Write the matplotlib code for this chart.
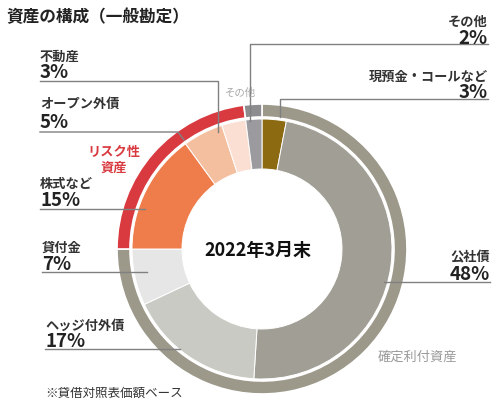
import matplotlib
matplotlib.use('Agg')
import matplotlib.pyplot as plt

plt.rcParams['font.family'] = ['Noto Sans CJK JP', 'DejaVu Sans']

# Inner ring: asset breakdown, clockwise from 12 o'clock
names = ['現預金・コールなど', '公社債', 'ヘッジ付外債', '貸付金',
         '株式など', 'オープン外債', '不動産', 'その他']
shares = [3, 48, 17, 7, 15, 5, 3, 2]
inner_colors = ['#8C6A12', '#A19F95', '#CACAC4', '#E6E6E6',
                '#EE7D4B', '#F4BF9F', '#FADFD2', '#9B9B9F']

# Outer ring: groups
groups = ['確定利付資産', 'リスク性資産', 'その他']
group_shares = [3 + 48 + 17 + 7, 15 + 5 + 3, 2]
outer_colors = ['#9C998B', '#D93A40', '#8D8D90']

W, H = 500, 410
CX, CY = 262, 250


def py(y):
    # pixel row (top = 0) to data y
    return H - y


fig = plt.figure(figsize=(5, 4.1), dpi=100)
ax = fig.add_axes([0, 0, 1, 1])

ax.pie(shares, colors=inner_colors, startangle=90, counterclock=False,
       radius=130, center=(CX, py(CY)),
       wedgeprops=dict(width=50, edgecolor='white', linewidth=0.7))
ax.pie(group_shares, colors=outer_colors, startangle=90, counterclock=False,
       radius=145, center=(CX, py(CY)),
       wedgeprops=dict(width=13, edgecolor='white', linewidth=1.2))

ax.set_xlim(0, W)
ax.set_ylim(0, H)
ax.set_aspect('equal')
ax.axis('off')

ax.text(CX - 4, py(CY), '2022年3月末', ha='center', va='center',
        fontsize=13, fontweight='bold', color='#111111')

ax.text(6, py(17), '資産の構成（一般勘定）', ha='left', va='center',
        fontsize=12, fontweight='bold', color='#222222')

line_kw = dict(color='#808080', linewidth=1.0)
name_kw = dict(fontsize=9.5, fontweight='bold', color='#333333', va='center')
pct_kw = dict(fontsize=13.5, fontweight='bold', color='#222222', va='center')

# left-side labels: (index, name y, pct y, leader path)
left_labels = [
    (6, 57, 73, [(40, 82), (218, 82), (218, 133)]),
    (5, 104, 122, [(40, 133), (178, 133), (184, 141)]),
    (4, 184, 201, [(40, 210), (145, 210)]),
    (3, 248, 265, [(42, 273), (147, 273)]),
    (2, 326, 342, [(45, 350), (180, 350)]),
]
for i, ny, pyy, path in left_labels:
    x0 = path[0][0]
    ax.text(x0, py(ny), names[i], ha='left', **name_kw)
    ax.text(x0, py(pyy), f'{shares[i]}%', ha='left', **pct_kw)
    ax.plot([p[0] for p in path], [py(p[1]) for p in path], **line_kw)

# right-side labels
right_labels = [
    (7, 22, 39, [(488, 45), (250, 45), (250, 122)]),
    (0, 77, 93, [(488, 100), (280, 100), (280, 118)]),
    (1, 257, 274, [(490, 283), (384, 283)]),
]
for i, ny, pyy, path in right_labels:
    x0 = path[0][0]
    ax.text(x0, py(ny), names[i], ha='right', **name_kw)
    ax.text(x0, py(pyy), f'{shares[i]}%', ha='right', **pct_kw)
    ax.plot([p[0] for p in path], [py(p[1]) for p in path], **line_kw)

# group labels
ax.text(114, py(160), 'リスク性\n資産', ha='center', va='center',
        fontsize=9.5, fontweight='bold', color='#D93A40', linespacing=1.2)
ax.text(417, py(357), groups[0], ha='center', va='center',
        fontsize=9.5, color='#9A9A9A')
ax.text(240, py(93), names[7], ha='center', va='center',
        fontsize=7.5, color='#A8A8A8')

ax.text(45, py(393), '※貸借対照表価額ベース', ha='left', va='center',
        fontsize=9, color='#333333')

fig.savefig('out.png', dpi=100)
